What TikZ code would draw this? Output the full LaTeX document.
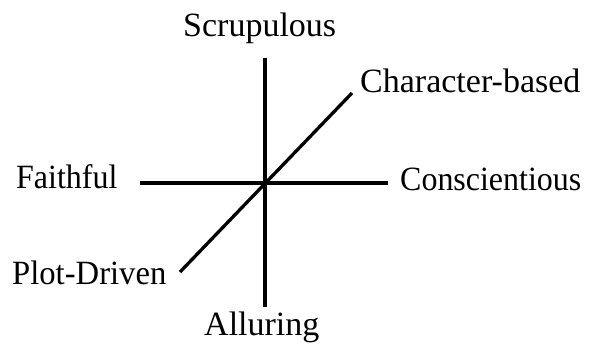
\documentclass[tikz,border=0pt]{standalone}
\usepackage{fontspec}
\usepackage{graphicx}
\setmainfont{Liberation Serif}
\begin{document}
\begin{tikzpicture}[x=1pt,y=-1pt,
  axis/.style={line width=3.3pt},
  lbl/.style={inner sep=0pt,anchor=base west,font=\fontsize{34}{40}\selectfont}]
\useasboundingbox (0,0) rectangle (592,347);
\coordinate (c) at (265,183);
\coordinate (top) at (265,58);
\coordinate (bot) at (265,307);
\coordinate (left) at (140,183);
\coordinate (right) at (388,183);
\coordinate (ne) at (352,93);
\coordinate (sw) at (180,272);
\draw[axis] (top) -- (bot);
\draw[axis] (left) -- (right);
\draw[axis] (sw) -- (ne);
\node[lbl] (s) at (183,37) {Scrupulous};
\node[lbl] (ch) at (360,93) {Character-based};
\node[lbl] (f) at (16,189) {\scalebox{0.94}[1]{Faithful}};
\node[lbl] (co) at (400,191) {\scalebox{0.94}[1]{Conscientious}};
\node[lbl] (p) at (12,285) {\scalebox{0.96}[1]{Plot-Driven}};
\node[lbl] (a) at (204,336) {Alluring};
\end{tikzpicture}
\end{document}
